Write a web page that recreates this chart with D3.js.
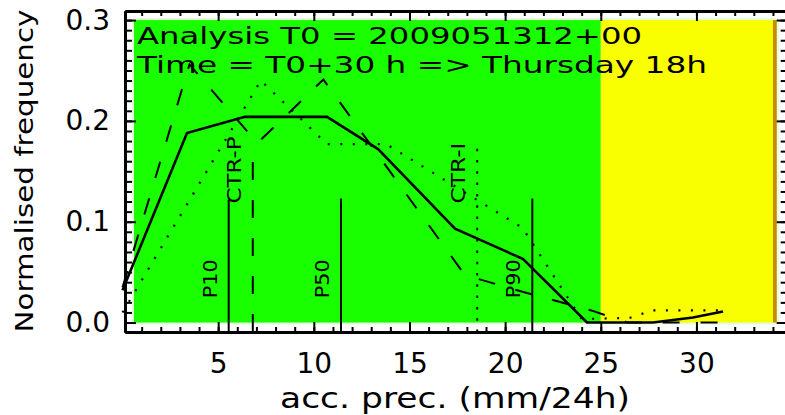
<!DOCTYPE html>
<html>
<head>
<meta charset="utf-8">
<script src="https://cdn.jsdelivr.net/npm/d3@7"></script>
<style>
  body { margin: 0; background: #fff; }
  svg { display: block; font-family: "DejaVu Sans", sans-serif; }
  .axis path, .axis line { stroke: #000; }
  .axis text { font-size: 28px; fill: #000; font-family: "DejaVu Sans", sans-serif; }
</style>
</head>
<body>
<script>
// ensemble distribution (solid), two other curves (dashed, dotted)
var solidX = [0, 3.37, 6.40, 10.69, 13.36, 17.38, 20.94, 24.28, 27.73, 29.82, 31.39];
var solidY = [0.032, 0.188, 0.204, 0.204, 0.172, 0.093, 0.063, 0.0, 0.0, 0.005, 0.011];

var dashX = [0, 3.5, 7.05, 10.5, 17.9, 21.0, 24.5, 26.4, 31.4];
var dashY = [0.035, 0.256, 0.178, 0.241, 0.047, 0.030, 0.012, 0.0, 0.0];

var dotX = [0, 7.23, 10.69, 13.78, 20.9, 24.0, 26.5, 27.7, 31.4];
var dotY = [0.010, 0.240, 0.177, 0.177, 0.094, 0.0035, 0.0045, 0.012, 0.012];

// percentiles / control markers
var markNames = ["P10", "CTR-P", "P50", "CTR-I", "P90"];
var markX = [5.55, 6.81, 11.42, 18.54, 21.42];
var markTop = [0.122, 0.161, 0.123, 0.175, 0.123];
var markLabelY = [0.024, 0.118, 0.024, 0.118, 0.024];

// background classes along x
var bandStart = [0.6, 25, 34.0];
var bandEnd = [25, 34.0, 34.2];
var bandColors = ["#19ff00", "#f9ff00", "#c88a00"];

var xMajor = [5, 10, 15, 20, 25, 30];
var yMajor = [0.0, 0.1, 0.2, 0.3];

var titleLines = ["Analysis T0 = 2009051312+00", "Time = T0+30 h => Thursday 18h"];

window.onload = draw();

function draw() {
    var width = 785, height = 415;

    var svg = d3.select("body").append("svg")
        .attr("width", width)
        .attr("height", height);

    var x = d3.scaleLinear().domain([0.13, 35.1]).range([125, 794]);
    var y = d3.scaleLinear().domain([-0.0094, 0.309]).range([332, 11]);

    // pale halo round the coloured area
    svg.append("rect")
        .attr("x", x(bandStart[0]) - 2)
        .attr("y", y(0.3) - 2)
        .attr("width", x(bandEnd[2]) - x(bandStart[0]) + 4)
        .attr("height", y(0) - y(0.3) + 4)
        .attr("fill", "#e2ffd8");

    // bands
    svg.selectAll(".band")
        .data(bandStart)
        .enter().append("rect")
        .attr("class", "band")
        .attr("x", function(d){ return x(d); })
        .attr("y", y(0.3))
        .attr("width", function(d, i){ return x(bandEnd[i]) - x(d); })
        .attr("height", y(0) - y(0.3))
        .attr("fill", function(d, i){ return bandColors[i]; });

    // title
    var tl = [505, 570];
    svg.selectAll(".title")
        .data(titleLines)
        .enter().append("text")
        .attr("class", "title")
        .attr("x", 137)
        .attr("y", function(d, i){ return 44 + i * 29; })
        .attr("textLength", function(d, i){ return tl[i]; })
        .attr("lengthAdjust", "spacingAndGlyphs")
        .style("font-size", "23px")
        .text(function(d){ return d; });

    // curves
    var line = d3.line()
        .x(function(d){ return x(d[0]); })
        .y(function(d){ return y(d[1]); });

    function pts(xs, ys){ return xs.map(function(v, i){ return [v, ys[i]]; }); }

    svg.append("path")
        .datum(pts(dotX, dotY))
        .attr("d", line)
        .attr("fill", "none")
        .attr("stroke", "#000")
        .attr("stroke-width", 2.2)
        .attr("stroke-dasharray", "2,10.5");

    svg.append("path")
        .datum(pts(dashX, dashY))
        .attr("d", line)
        .attr("fill", "none")
        .attr("stroke", "#000")
        .attr("stroke-width", 2)
        .attr("stroke-dasharray", "17,21");

    svg.append("path")
        .datum(pts(solidX, solidY))
        .attr("d", line)
        .attr("fill", "none")
        .attr("stroke", "#000")
        .attr("stroke-width", 2.6);

    // vertical markers
    var markDash = { "CTR-P": "18,20", "CTR-I": "2.5,8.8" };
    var labelLen = { "P10": 39, "P50": 39, "P90": 39, "CTR-P": 67, "CTR-I": 61 };

    svg.selectAll(".mark")
        .data(markNames)
        .enter().append("line")
        .attr("class", "mark")
        .attr("x1", function(d, i){ return x(markX[i]); })
        .attr("x2", function(d, i){ return x(markX[i]); })
        .attr("y1", y(-0.0094))
        .attr("y2", function(d, i){ return y(markTop[i]); })
        .attr("stroke", "#000")
        .attr("stroke-width", 2)
        .attr("stroke-dasharray", function(d){ return markDash[d] || null; });

    svg.selectAll(".markLabel")
        .data(markNames)
        .enter().append("text")
        .attr("class", "markLabel")
        .attr("transform", function(d, i){
            return "translate(" + (x(markX[i]) - 12) + "," + y(markLabelY[i]) + ") rotate(-90)";
        })
        .attr("textLength", function(d){ return labelLen[d]; })
        .attr("lengthAdjust", "spacingAndGlyphs")
        .style("font-size", "20px")
        .text(function(d){ return d; });

    // axes
    var minorX = d3.range(1, 35);
    var minorY = d3.range(0, 31).map(function(d){ return d / 100; });

    function styleAxis(g){
        g.select(".domain").attr("stroke-width", 3);
        g.selectAll(".tick line").attr("stroke-width", 2);
    }

    svg.append("g").attr("class", "axis")
        .attr("transform", "translate(0," + y(-0.0094) + ")")
        .call(d3.axisBottom(x).tickValues(minorX).tickSize(-5).tickSizeOuter(0).tickFormat(""))
        .call(styleAxis);
    svg.append("g").attr("class", "axis")
        .attr("transform", "translate(0," + y(-0.0094) + ")")
        .call(d3.axisBottom(x).tickValues(xMajor).tickSize(-10).tickSizeOuter(0).tickPadding(21).tickFormat(d3.format("d")))
        .call(styleAxis);

    svg.append("g").attr("class", "axis")
        .attr("transform", "translate(0," + y(0.309) + ")")
        .call(d3.axisTop(x).tickValues(minorX).tickSize(-5).tickSizeOuter(0).tickFormat(""))
        .call(styleAxis);
    svg.append("g").attr("class", "axis")
        .attr("transform", "translate(0," + y(0.309) + ")")
        .call(d3.axisTop(x).tickValues(xMajor).tickSize(-10).tickSizeOuter(0).tickFormat(""))
        .call(styleAxis);

    svg.append("g").attr("class", "axis")
        .attr("transform", "translate(" + x(0.13) + ",0)")
        .call(d3.axisLeft(y).tickValues(minorY).tickSize(-7).tickSizeOuter(0).tickFormat(""))
        .call(styleAxis);
    svg.append("g").attr("class", "axis")
        .attr("transform", "translate(" + x(0.13) + ",0)")
        .call(d3.axisLeft(y).tickValues(yMajor).tickSize(-11).tickSizeOuter(0).tickPadding(15).tickFormat(d3.format(".1f")))
        .call(styleAxis);

    svg.append("g").attr("class", "axis")
        .attr("transform", "translate(" + x(34.77) + ",0)")
        .call(d3.axisRight(y).tickValues(minorY).tickSize(-7).tickSizeOuter(0).tickFormat(""))
        .call(styleAxis);
    svg.append("g").attr("class", "axis")
        .attr("transform", "translate(" + x(34.77) + ",0)")
        .call(d3.axisRight(y).tickValues(yMajor).tickSize(-11).tickSizeOuter(0).tickFormat(""))
        .call(styleAxis);

    // axis titles
    svg.append("text")
        .attr("x", 280)
        .attr("y", 408)
        .attr("textLength", 350)
        .attr("lengthAdjust", "spacingAndGlyphs")
        .style("font-size", "29px")
        .text("acc. prec. (mm/24h)");

    svg.append("text")
        .attr("transform", "translate(33,171) rotate(-90)")
        .attr("text-anchor", "middle")
        .attr("textLength", 323)
        .attr("lengthAdjust", "spacingAndGlyphs")
        .style("font-size", "25px")
        .text("Normalised frequency");
}
</script>
</body>
</html>
